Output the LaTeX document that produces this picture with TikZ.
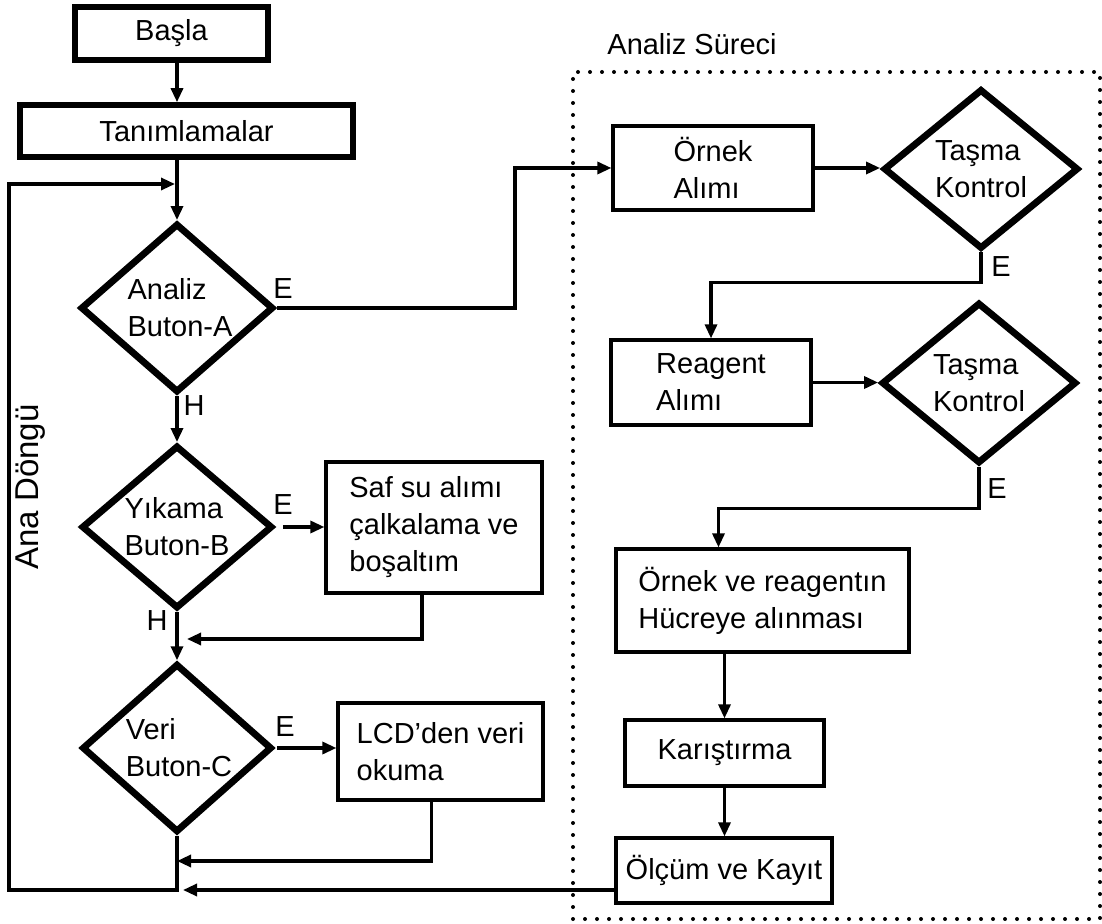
\documentclass[tikz,border=0pt]{standalone}
\usepackage{fontspec}
\setmainfont{Liberation Sans}
\usetikzlibrary{arrows.meta,shapes.geometric,calc,positioning}

\begin{document}
\begin{tikzpicture}[x=0.5pt,y=-0.5pt,
  font=\fontsize{14.5}{18.5}\selectfont,
  thickbox/.style={draw,line width=2.8pt,inner sep=0pt},
  thinbox/.style={draw,line width=1.6pt,inner sep=0pt,align=left},
  decision/.style={draw,diamond,line width=3.4pt,inner sep=0pt,align=left},
  line/.style={line width=1.6pt},
  arr/.style={line width=1.6pt,-{Triangle[length=7pt,width=6pt]}},
  frame/.style={line width=2pt,dash pattern=on 0pt off 6pt,line cap=round},
  lbl/.style={inner sep=0pt}]
\useasboundingbox (0,0) rectangle (1102,924);

% main loop
\node[thickbox,minimum width=96.5pt,minimum height=26.5pt] (start) at (171.5,33.5) {Başla};
\node[thickbox,minimum width=166.5pt,minimum height=26pt] (tanim) at (186.5,131) {Tanımlamalar};
\node[decision,minimum width=96.5pt,minimum height=80.5pt] (a1) at (177,308) {\hspace*{3pt}Analiz\\\hspace*{3pt}Buton-A};
\node[decision,minimum width=95.5pt,minimum height=80.5pt] (b1) at (177,527) {Yıkama\\Buton-B};
\node[decision,minimum width=95pt,minimum height=80pt] (c1) at (177,748) {\hspace*{2pt}Veri\\\hspace*{2pt}Buton-C};
\node[thinbox,minimum width=108pt,minimum height=65.5pt] (saf) at (434,527.5) {Saf su alımı\\çalkalama ve\\boşaltım};
\node[thinbox,minimum width=102.5pt,minimum height=48.5pt] (lcd) at (440.5,751.5) {LCD’den veri\\okuma};

% analiz sureci
\node[thinbox,minimum width=100pt,minimum height=42pt] (ornek) at (713,168) {Örnek\\Alımı};
\node[decision,minimum width=97.5pt,minimum height=80pt] (tasma1) at (981,169) {Taşma\\Kontrol};
\node[thinbox,minimum width=100pt,minimum height=42.5pt] (reagent) at (711,382.5) {Reagent\\Alımı};
\node[decision,minimum width=97.5pt,minimum height=80.5pt] (tasma2) at (979,383) {Taşma\\Kontrol};
\node[thinbox,minimum width=146.5pt,minimum height=51.5pt] (hucre) at (762.5,600.5) {Örnek ve reagentın\\Hücreye alınması};
\node[thinbox,minimum width=99.5pt,minimum height=33pt] (karis) at (724.5,753) {Karıştırma};
\node[thinbox,minimum width=108pt,minimum height=32.5pt] (olcum) at (724,870.5) {Ölçüm ve Kayıt};

\coordinate (topL) at (9,184);
\coordinate (botL) at (9,890);
\coordinate (joinB) at (177,639);
\coordinate (joinC) at (177,861);

% connectors
\draw[arr] (start.south -| a1) -- (tanim.north -| a1);
\draw[arr] (tanim.south -| a1) -- (a1.north);
\draw[arr] (a1.south) -- (b1.north);
\draw[arr] (b1.south) -- (c1.north);
\draw[arr,shorten >=1pt] (c1.south) |- (botL) -- (topL) -- (topL -| a1);
\draw[arr] (a1.east) -- ++(238,0) |- (ornek.west);
\draw[arr,shorten <=3.5pt] (b1.east) -- (b1.east -| saf.west);
\draw[arr,shorten <=1pt] (c1.east) -- (c1.east -| lcd.west);
\draw[arr,shorten >=5pt] ([xshift=-6pt]saf.south) |- (joinB);
\draw[arr] ([xshift=-4.5pt]lcd.south) |- (joinC);
\draw[arr,shorten >=3pt] (olcum.west |- botL) -- (botL -| c1);

\draw[arr] (ornek.east) -- (ornek.east -| tasma1.west);
\draw[arr] (tasma1.south) -- ++(0,30) -| (reagent.north);
\draw[arr] (reagent.east) -- (reagent.east -| tasma2.west);
\draw[arr] (tasma2.south) -- ++(0,42) -| ([xshift=-22pt]hucre.north);
\draw[arr] (hucre.south -| karis) -- (karis.north);
\draw[arr] (karis.south) -- (karis.south |- olcum.north);

% frame
\draw[frame] (573,919) -- (573,72) -- (1100,72) -- (1100,919) -- cycle;

% labels
\node[lbl,anchor=base west] (title) at (607,55) {Analiz Süreci};
\node[lbl,rotate=90,font=\fontsize{16.5}{20}\selectfont] (loop) at (31,487) {Ana Döngü};
\node[lbl] (ea) at (283,289) {E};
\node[lbl] (ha) at (194,406) {H};
\node[lbl] (eb) at (283,505) {E};
\node[lbl] (hb) at (157,621) {H};
\node[lbl] (ec) at (285,727) {E};
\node[lbl] (et1) at (1001,267) {E};
\node[lbl] (et2) at (997,489) {E};
\end{tikzpicture}
\end{document}
